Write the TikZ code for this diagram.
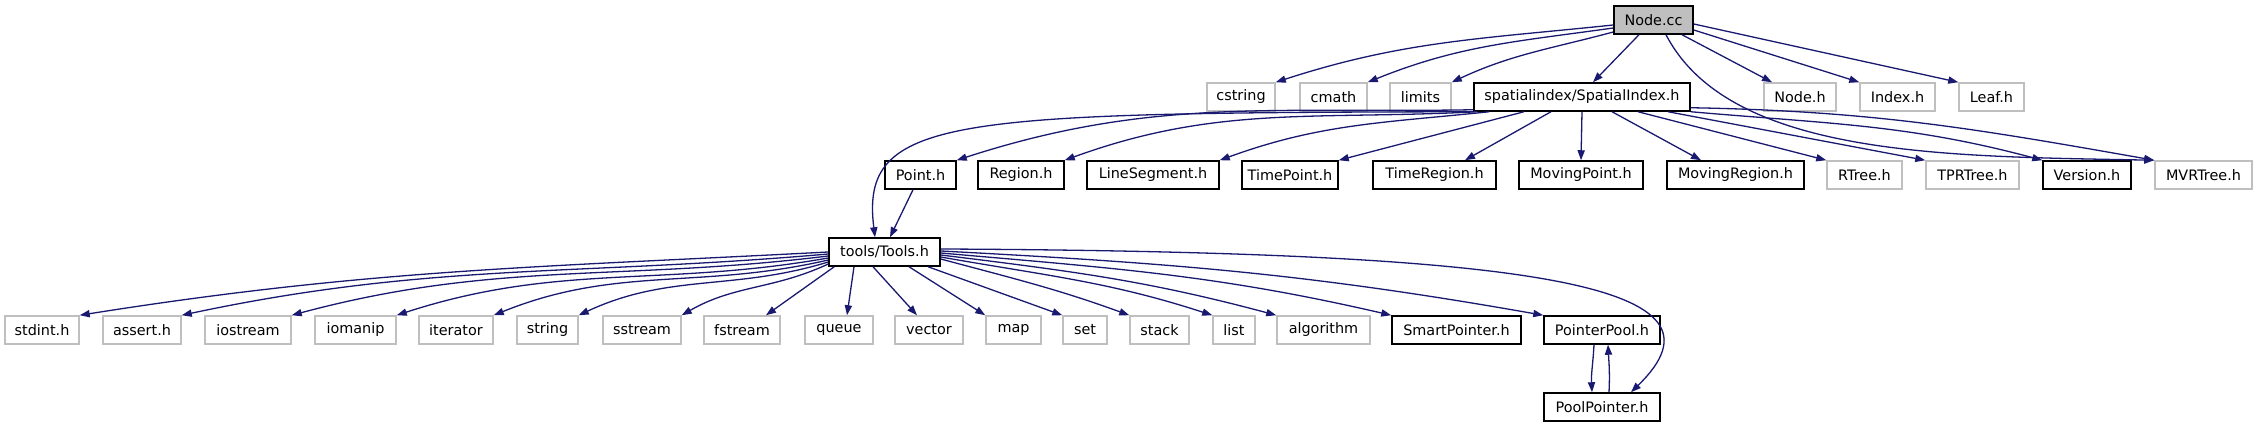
\documentclass[tikz,border=0pt]{standalone}
\usepackage{fontspec}
\setmainfont{DejaVu Sans}
\usetikzlibrary{arrows.meta}
\definecolor{ecol}{HTML}{191970}
\definecolor{gbord}{HTML}{BFBFBF}
\begin{document}
\begin{tikzpicture}[x=0.5pt,y=0.5pt,
  box/.style={rectangle, inner sep=0pt, minimum height=14pt, font=\fontsize{7.2pt}{8.6pt}\selectfont},
  fb/.style={box, draw=black, line width=0.75pt},
  gb/.style={box, draw=gbord, line width=0.75pt},
  bw/.style={minimum width=#1*0.5pt},
  dep/.style={draw=ecol, line width=0.65pt, -{Triangle[length=5pt,width=3.6pt]}}]
\useasboundingbox (0,0) rectangle (2256,427);
% row 1
\node[fb, fill=gbord, bw=79] (nodecc) at (1653.5,407) {Node.cc};
% row 2
\node[gb, bw=68] (cstring) at (1241,330) {cstring};
\node[gb, bw=67] (cmath) at (1333.5,330) {cmath};
\node[gb, bw=61] (limits) at (1420.5,330) {limits};
\node[fb, bw=216] (si) at (1582,330) {spatialindex/SpatialIndex.h};
\node[gb, bw=72] (nodeh) at (1800,330) {Node.h};
\node[gb, bw=75] (indexh) at (1897.5,330) {Index.h};
\node[gb, bw=65] (leafh) at (1991.5,330) {Leaf.h};
% row 3
\node[fb, bw=71] (pointh) at (920.5,252) {Point.h};
\node[fb, bw=86] (regionh) at (1021,252) {Region.h};
\node[fb, bw=132] (lsh) at (1153,252) {LineSegment.h};
\node[fb, bw=96] (tph) at (1290,252) {TimePoint.h};
\node[fb, bw=123] (trh) at (1434.5,252) {TimeRegion.h};
\node[fb, bw=124] (mph) at (1581,252) {MovingPoint.h};
\node[fb, bw=137] (mrh) at (1735.5,252) {MovingRegion.h};
\node[gb, bw=75] (rtreeh) at (1864.5,252) {RTree.h};
\node[gb, bw=93] (tprh) at (1972.5,252) {TPRTree.h};
\node[fb, bw=88] (versionh) at (2087,252) {Version.h};
\node[gb, bw=97] (mvrh) at (2203.5,252) {MVRTree.h};
% row 4
\node[fb, bw=111] (tools) at (884.5,175) {tools/Tools.h};
% row 5
\node[gb, bw=74] (stdint) at (42,97) {stdint.h};
\node[gb, bw=78] (assert) at (142,97) {assert.h};
\node[gb, bw=86] (iostream) at (248,97) {iostream};
\node[gb, bw=81] (iomanip) at (355.5,97) {iomanip};
\node[gb, bw=74] (iterator) at (456,97) {iterator};
\node[gb, bw=61] (string) at (547.5,97) {string};
\node[gb, bw=78] (sstream) at (642,97) {sstream};
\node[gb, bw=76] (fstream) at (742,97) {fstream};
\node[gb, bw=68] (queue) at (839,97) {queue};
\node[gb, bw=68] (vector) at (929,97) {vector};
\node[gb, bw=55] (map) at (1013.5,97) {map};
\node[gb, bw=44] (set) at (1085,97) {set};
\node[gb, bw=59] (stack) at (1159.5,97) {stack};
\node[gb, bw=42] (list) at (1234,97) {list};
\node[gb, bw=93] (algorithm) at (1323.5,97) {algorithm};
\node[fb, bw=129] (smart) at (1456.5,97) {SmartPointer.h};
\node[fb, bw=116] (ppool) at (1602,97) {PointerPool.h};
% row 6
\node[fb, bw=116] (poolp) at (1602,20) {PoolPointer.h};

% Node.cc edges
\draw[dep] ([yshift=-2.5pt]nodecc.west) to[out=186,in=18] (cstring.north east);
\draw[dep] ([yshift=-4pt]nodecc.west) to[out=188,in=22] (cmath.north east);
\draw[dep] ([yshift=-6pt]nodecc.west) to[out=195,in=25] (limits.north east);
\draw[dep] ([xshift=-7.25pt]nodecc.south) -- ([xshift=5.5pt]si.north);
\draw[dep] ([xshift=14.25pt]nodecc.south) -- ([xshift=-14pt]nodeh.north);
\draw[dep] ([yshift=-5pt]nodecc.east) -- (indexh.north west);
\draw[dep] ([yshift=-2pt]nodecc.east) -- (leafh.north west);
\draw[dep] ([xshift=6.25pt]nodecc.south) .. controls +(64,-123) and +(-205,4) .. (mvrh.north west);

% SpatialIndex edges
\draw[dep] (si.south west) .. controls +(-524,-1) and +(-15,121) .. ([xshift=-4.75pt]tools.north);
\draw[dep] ([yshift=1pt]si.south west) to[out=181,in=18] (pointh.north east);
\draw[dep] ([xshift=2pt]si.south west) to[out=183,in=20] (regionh.north east);
\draw[dep] ([xshift=8pt]si.south west) to[out=186,in=20] (lsh.north east);
\draw[dep] ([xshift=-29pt]si.south) -- (tph.north east);
\draw[dep] ([xshift=-15.5pt]si.south) -- ([xshift=15.25pt]trh.north);
\draw[dep] (si.south) -- (mph.north);
\draw[dep] ([xshift=15pt]si.south) -- ([xshift=-17.25pt]mrh.north);
\draw[dep] ([xshift=28pt]si.south) -- (rtreeh.north west);
\draw[dep] ([xshift=43pt]si.south) -- (tprh.north west);
\draw[dep] (si.south east) to[out=-5,in=165] (versionh.north west);
\draw[dep] ([yshift=2pt]si.south east) to[out=-1,in=170] (mvrh.north west);

% row 3 -> tools
\draw[dep] ([xshift=-3.75pt]pointh.south) -- ([xshift=2.75pt]tools.north);

% tools edges
\draw[dep] (tools.west) to[out=183,in=9] (stdint.north east);
\draw[dep] ([yshift=-1pt]tools.west) to[out=185,in=12] (assert.north east);
\draw[dep] ([yshift=-2pt]tools.west) to[out=187,in=15] (iostream.north east);
\draw[dep] ([yshift=-3pt]tools.west) to[out=190,in=18] (iomanip.north east);
\draw[dep] ([yshift=-4pt]tools.west) to[out=193,in=22] (iterator.north east);
\draw[dep] ([yshift=-5pt]tools.west) to[out=197,in=25] (string.north east);
\draw[dep] ([yshift=-6pt]tools.west) to[out=205,in=30] (sstream.north east);
\draw[dep] ([xshift=3pt]tools.south west) -- ([xshift=12pt]fstream.north);
\draw[dep] ([xshift=-15.25pt]tools.south) -- ([xshift=4pt]queue.north);
\draw[dep] ([xshift=-5.75pt]tools.south) -- ([xshift=-6pt]vector.north);
\draw[dep] ([xshift=12.25pt]tools.south) -- (map.north west);
\draw[dep] ([xshift=21.75pt]tools.south) -- (set.north west);
\draw[dep] ([yshift=-3.5pt]tools.east) to[out=-15,in=160] (stack.north west);
\draw[dep] ([yshift=-2.5pt]tools.east) to[out=-10,in=162] (list.north west);
\draw[dep] ([yshift=-1.5pt]tools.east) to[out=-7,in=165] (algorithm.north west);
\draw[dep] ([yshift=-0.5pt]tools.east) to[out=-5,in=167] (smart.north west);
\draw[dep] ([yshift=0.5pt]tools.east) to[out=-3,in=170] (ppool.north west);
\draw[dep] ([yshift=1.5pt]tools.east) .. controls +(610,-3) and +(109,106) .. ([xshift=14.5pt]poolp.north);

% PointerPool <-> PoolPointer
\draw[dep] ([xshift=-4pt]ppool.south) to[out=-93,in=93] ([xshift=-5pt]poolp.north);
\draw[dep] ([xshift=3.5pt]poolp.north) to[out=87,in=-87] ([xshift=3pt]ppool.south);
\end{tikzpicture}
\end{document}
